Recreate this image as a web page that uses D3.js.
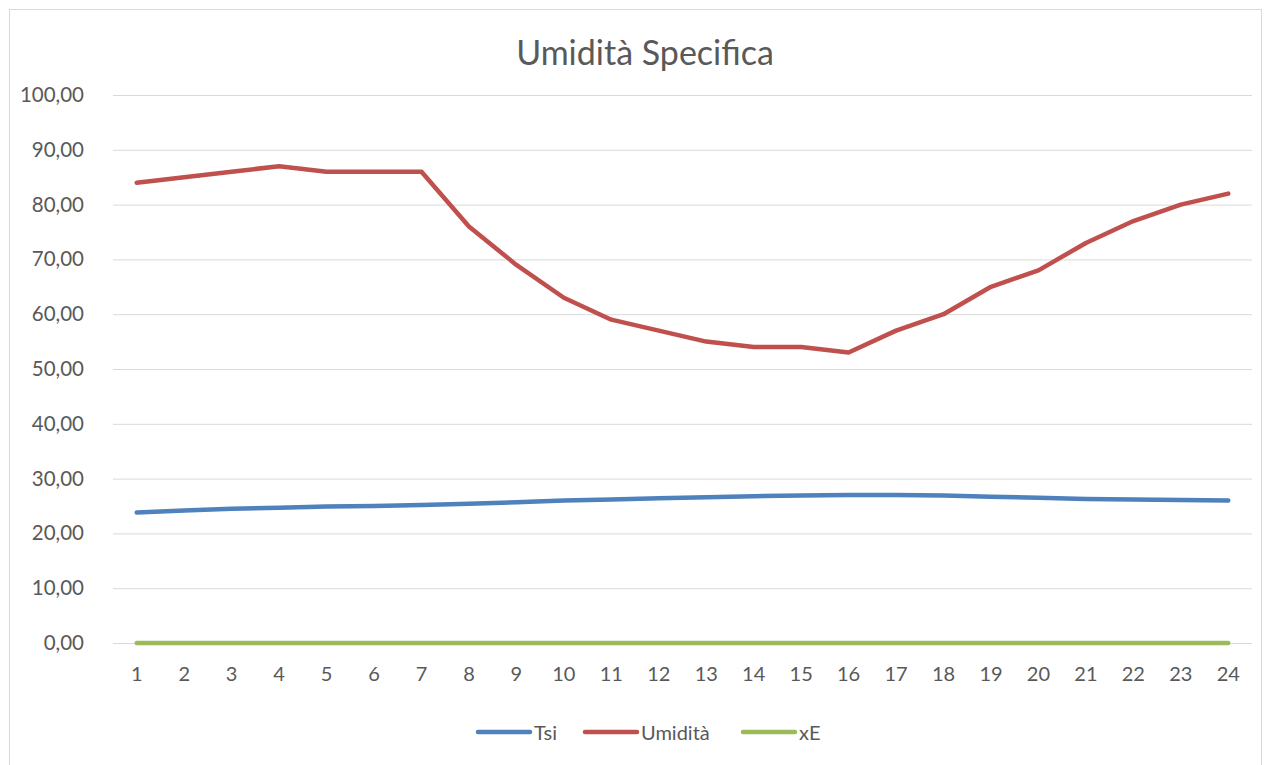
<!DOCTYPE html>
<html>
<head>
<meta charset="utf-8">
<script src="https://cdn.jsdelivr.net/npm/d3@7"></script>
<style>
body { margin: 0; background: #fff; }
text { font-family: Lato, "Open Sans", sans-serif; fill: #595959; }
</style>
</head>
<body>
<svg id="chart" width="1271" height="765"></svg>
<script>
let hours = d3.range(1, 25);
let tsi = [23.8, 24.2, 24.5, 24.7, 24.9, 25.0, 25.2, 25.4, 25.7, 26.0, 26.2, 26.4, 26.6, 26.8, 26.9, 27.0, 27.0, 26.9, 26.7, 26.5, 26.3, 26.2, 26.1, 26.0];
let umidita = [84, 85, 86, 87, 86, 86, 86, 76, 69, 63, 59, 57, 55, 54, 54, 53, 57, 60, 65, 68, 73, 77, 80, 82];
let xE = [0, 0, 0, 0, 0, 0, 0, 0, 0, 0, 0, 0, 0, 0, 0, 0, 0, 0, 0, 0, 0, 0, 0, 0];
let seriesNames = ["Tsi", "Umidità", "xE"];
let yTicks = [0, 10, 20, 30, 40, 50, 60, 70, 80, 90, 100];

let series = [
	{name: seriesNames[0], values: tsi, color: "#4F81BD"},
	{name: seriesNames[1], values: umidita, color: "#C0504D"},
	{name: seriesNames[2], values: xE, color: "#9BBB59"}
];

let svg = d3.select("#chart");

// chart frame
svg.append("rect").attr("x", 9.5).attr("y", 9.5).attr("width", 1252).attr("height", 770)
	.attr("fill", "none").attr("stroke", "#d9d9d9");

let x = d3.scaleBand().domain(hours).range([113, 1252]);
let y = d3.scaleLinear().domain([0, 100]).range([643, 95]);

let fmt = function(d) { return d3.format(".2f")(d).replace(".", ","); };

// grid
svg.append("g").selectAll("line").data(yTicks).enter().append("line")
	.attr("x1", 113).attr("x2", 1252)
	.attr("y1", function(d) { return y(d) + 0.5; }).attr("y2", function(d) { return y(d) + 0.5; })
	.attr("stroke", "#d9d9d9").attr("stroke-width", 1);

// y axis
let yAxis = svg.append("g").attr("transform", "translate(113,0)")
	.call(d3.axisLeft(y).tickValues(yTicks).tickFormat(fmt).tickSize(0).tickPadding(29));
yAxis.select(".domain").remove();
yAxis.selectAll("text").style("font-size", "20.5px").style("fill", "#595959").style("font-family", "Lato, sans-serif");

// x axis
let xAxis = svg.append("g").attr("transform", "translate(0,643)")
	.call(d3.axisBottom(x).tickSize(0).tickPadding(24));
xAxis.select(".domain").remove();
xAxis.selectAll("text").style("font-size", "20px").style("fill", "#595959").style("font-family", "Lato, sans-serif");

let line = d3.line()
	.x(function(d, i) { return x(hours[i]) + x.bandwidth() / 2; })
	.y(function(d) { return y(d); });

svg.append("g").selectAll("path").data(series).enter().append("path")
	.attr("d", function(s) { return line(s.values); })
	.attr("fill", "none")
	.attr("stroke", function(s) { return s.color; })
	.attr("stroke-width", 4.5)
	.attr("stroke-linecap", "round")
	.attr("stroke-linejoin", "round");

// title
svg.append("text").attr("x", 645).attr("y", 65).attr("text-anchor", "middle")
	.style("font-size", "34px").text("Umidità Specifica");

// legend
let legendX = [478, 585, 743];
let legend = svg.append("g").selectAll("g").data(series).enter().append("g")
	.attr("transform", function(s, i) { return "translate(" + legendX[i] + ",732)"; });
legend.append("line").attr("x1", 0).attr("x2", 52).attr("y1", 0).attr("y2", 0)
	.attr("stroke", function(s) { return s.color; }).attr("stroke-width", 4.5).attr("stroke-linecap", "round");
legend.append("text").attr("x", 56).attr("y", 7.5).style("font-size", "20px").text(function(s) { return s.name; });
</script>
</body>
</html>
